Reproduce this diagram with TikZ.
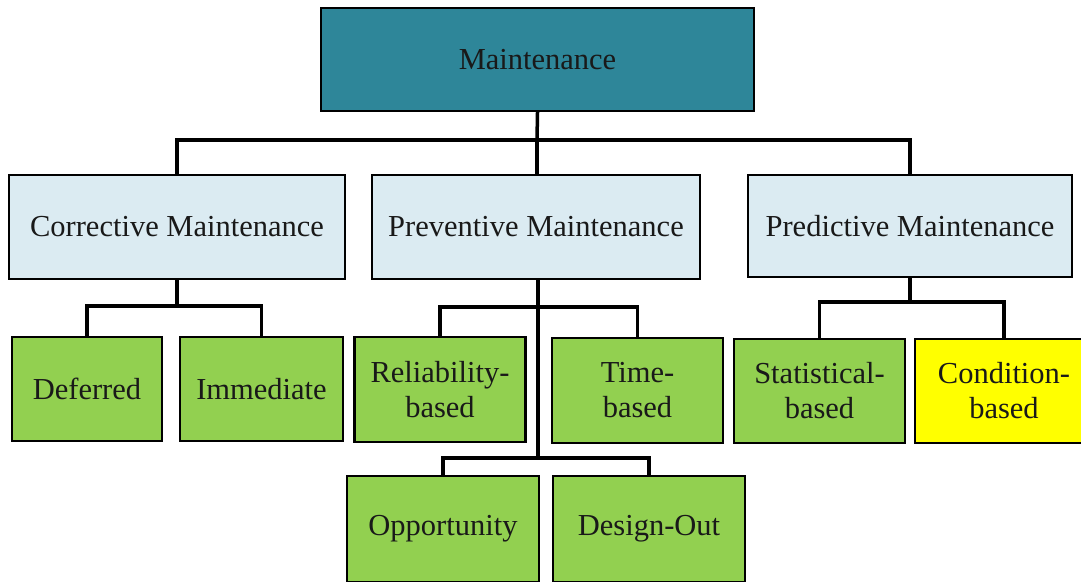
\documentclass[tikz,border=0pt]{standalone}
\usepackage{fontspec}
\setmainfont{Liberation Serif}
\definecolor{teal1}{HTML}{2E8699}
\definecolor{lblue}{HTML}{DBEBF2}
\definecolor{lgreen}{HTML}{92D050}
\definecolor{yel}{HTML}{FFFF00}
\begin{document}
\begin{tikzpicture}[x=1pt,y=-1pt,
  box/.style={draw=black, line width=2.8pt, inner sep=0pt, align=center,
    font=\fontsize{30.5}{35}\selectfont, text=black!90},
  root/.style={box, fill=teal1},
  mid/.style={box, fill=lblue},
  leaf/.style={box, fill=lgreen},
  hot/.style={box, fill=yel},
  conn/.style={draw=black, line width=3.5pt, line cap=rect}]
\useasboundingbox (0,0) rectangle (1081,581);
\node[root, minimum width=433pt, minimum height=103pt] (M) at (537.5,59.5) {Maintenance};
\node[mid, minimum width=336pt, minimum height=104pt] (C) at (177,227) {Corrective Maintenance};
\node[mid, minimum width=328pt, minimum height=104pt] (P) at (536,227) {Preventive Maintenance};
\node[mid, minimum width=324pt, minimum height=102pt] (R) at (910,226) {Predictive Maintenance};
\node[leaf, minimum width=150pt, minimum height=104pt] (Def) at (87,389) {Deferred};
\node[leaf, minimum width=163pt, minimum height=104pt] (Imm) at (261.5,389) {Immediate};
\node[leaf, minimum width=171pt, minimum height=105pt] (Rel) at (440,389.5) {Reliability-\\based};
\node[leaf, minimum width=171pt, minimum height=105pt] (Tim) at (637.5,390.5) {Time-\\based};
\node[leaf, minimum width=171pt, minimum height=104pt] (Sta) at (819.5,391) {Statistical-\\based};
\node[hot, minimum width=178pt, minimum height=104pt] (Con) at (1004,391) {Condition-\\based};
\node[leaf, minimum width=192pt, minimum height=106pt] (Opp) at (443,529) {Opportunity};
\node[leaf, minimum width=192pt, minimum height=106pt] (Des) at (649,529) {Design-Out};
% connectors
\coordinate (j0) at (537,140);
\coordinate (j1) at (177,306);
\coordinate (j2) at (538,307);
\coordinate (j3) at (538,458);
\coordinate (j4) at (910,302);
\draw[conn] (M.south) -- (j0);
\draw[conn] (j0 -| C.north) -- (j0 -| R.north);
\draw[conn] (j0 -| C.north) -- (C.north);
\draw[conn] (j0) -- (j0 |- P.north);
\draw[conn] (j0 -| R.north) -- (R.north);
\draw[conn] (C.south) -- (j1);
\draw[conn] (Def.north) |- (j1) -| (Imm.north);
\draw[conn] (j2 |- P.south) -- (j3);
\draw[conn] (Rel.north) |- (j2) -| (Tim.north);
\draw[conn] (Opp.north) |- (j3) -| (Des.north);
\draw[conn] (R.south) -- (j4);
\draw[conn] (Sta.north) |- (j4) -| (Con.north);
\end{tikzpicture}
\end{document}
